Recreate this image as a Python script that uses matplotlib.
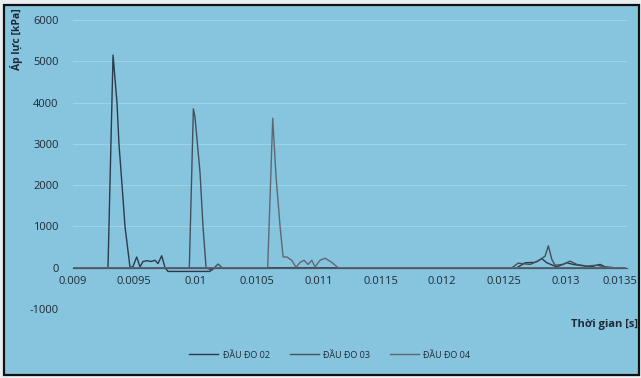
import matplotlib

matplotlib.use("Agg")
import matplotlib.pyplot as plt
from matplotlib.patches import Rectangle

# pressure traces (time in s, pressure in kPa)
t_02 = [0.0090, 0.009288, 0.009329, 0.009361, 0.009377, 0.009402, 0.009426, 0.009467,
        0.009491, 0.009521, 0.009548, 0.009572, 0.009605, 0.009637, 0.00967, 0.009694,
        0.009724, 0.009751, 0.009775, 0.00992, 0.010116, 0.01014, 0.012606, 0.012673,
        0.012754, 0.012809, 0.012849, 0.01293, 0.013011, 0.013063, 0.013201, 0.013282,
        0.013336, 0.01348]
p_02 = [0, 0, 5150, 4000, 3000, 2000, 1000, 0,
        30, 260, 20, 150, 170, 150, 180, 100,
        290, 0, -90, -90, -90, 0, 0, 120,
        130, 220, 120, 20, 120, 80, 20, 80,
        0, 0]

t_03 = [0.0090, 0.009948, 0.009981, 0.009994, 0.010035, 0.010059, 0.010084, 0.010132,
        0.010181, 0.010214, 0.012567, 0.012616, 0.012714, 0.012778, 0.012835, 0.012862,
        0.01289, 0.012916, 0.012981, 0.013038, 0.013093, 0.013174, 0.013255, 0.013306,
        0.0134, 0.01348]
p_03 = [0, 0, 3850, 3650, 2300, 1000, 0, -60,
        90, 0, 0, 110, 80, 160, 280, 530,
        200, 60, 80, 160, 80, 40, 60, 30,
        0, 0]

t_04 = [0.0090, 0.010584, 0.010625, 0.010652, 0.010684, 0.010709, 0.010739, 0.010779,
        0.010814, 0.010847, 0.010879, 0.010912, 0.010942, 0.010968, 0.011009, 0.01105,
        0.011104, 0.011155, 0.01348]
p_04 = [0, 0, 3620, 2200, 1020, 260, 260, 180,
        10, 130, 180, 80, 180, 20, 180, 230,
        130, 0, 0]

series = [("ĐẦU ĐO 02", t_02, p_02, "#2c3a4a"),
          ("ĐẦU ĐO 03", t_03, p_03, "#44505c"),
          ("ĐẦU ĐO 04", t_04, p_04, "#5e6873")]

x_ticks = [0.009, 0.0095, 0.01, 0.0105, 0.011, 0.0115, 0.012, 0.0125, 0.013, 0.0135]
x_labels = ["0.009", "0.0095", "0.01", "0.0105", "0.011", "0.0115", "0.012", "0.0125",
            "0.013", "0.0135"]
y_ticks = [-1000, 0, 1000, 2000, 3000, 4000, 5000, 6000]

BG = "#87c5de"
TXT = "#1f2a36"

plt.rcParams["font.family"] = ["Open Sans", "DejaVu Sans"]

W, H = 641, 378
fig = plt.figure(figsize=(W / 100, H / 100), dpi=100, facecolor="#e9eef0")
fig.patches.append(Rectangle((4 / W, 3 / H), 635 / W, 370 / H, transform=fig.transFigure,
                             facecolor=BG, edgecolor="#111111", lw=1.6, zorder=-10))

ax = fig.add_axes([72.5 / W, 1 - 309 / H, (627 - 72.5) / W, (309 - 20) / H])
ax.set_facecolor("none")
ax.set_zorder(5)

for name, t, p, c in series:
    ax.plot(t, p, color=c, lw=1.0, label=name)

ax.set_xlim(0.009, 0.0135)
ax.set_ylim(-1000, 6000)
# the last label would run past the frame, so it is drawn separately below
ax.set_xticks(x_ticks)
ax.set_xticklabels(x_labels[:-1] + [""])
ax.set_yticks(y_ticks)
ax.set_yticklabels([str(v) for v in y_ticks])
ax.tick_params(length=0, labelsize=8, labelcolor=TXT)
ax.tick_params(axis="y", pad=10)
ax.tick_params(axis="x", pad=6)
ax.annotate(x_labels[-1], xy=(1, 0), xycoords=("axes fraction", "data"),
            xytext=(7.5, -6), textcoords="offset points", ha="right", va="top",
            fontsize=8, color=TXT, annotation_clip=False)

for s in ("top", "right", "left"):
    ax.spines[s].set_visible(False)
ax.spines["bottom"].set_position(("data", 0))
ax.spines["bottom"].set_color("#4a5866")
ax.spines["bottom"].set_linewidth(0.9)
ax.grid(axis="y", color="#a2d6e8", lw=0.6)
ax.set_axisbelow(True)

fig.text(16.5 / W, 1 - 39 / H, "Áp lực [kPa]", rotation=90, ha="center", va="center",
         fontsize=7.5, fontweight="bold", color=TXT)
fig.text(638 / W, 1 - 325 / H, "Thời gian [s]", ha="right", va="center",
         fontsize=8, fontweight="bold", color=TXT)

fig.legend(loc="center", bbox_to_anchor=(330 / W, 1 - 355 / H), ncol=3, frameon=False,
           fontsize=6.5, handlelength=3.2, handletextpad=0.5, columnspacing=2.2,
           labelcolor=TXT)

fig.savefig("out.png", dpi=100, facecolor=fig.get_facecolor())
